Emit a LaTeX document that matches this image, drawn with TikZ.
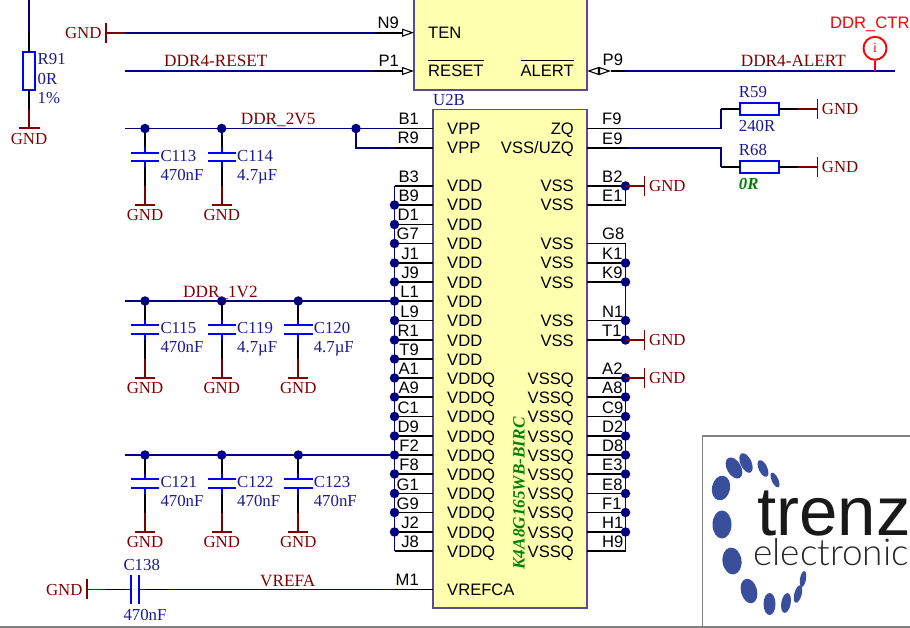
\documentclass[tikz,border=0pt]{standalone}
\usepackage{fontspec}
\setmainfont{Liberation Serif}
\newfontfamily\chipfont{Liberation Sans}
\newfontfamily\logofont{Lato Light}
\usetikzlibrary{arrows.meta}
\definecolor{wirenavy}{HTML}{000080}
\definecolor{partblue}{HTML}{0000FF}
\definecolor{textblue}{HTML}{1A1A8C}
\definecolor{gndred}{HTML}{800000}
\definecolor{chipyellow}{HTML}{FFFFB0}
\definecolor{chipedge}{HTML}{5B4A9A}
\definecolor{partgreen}{HTML}{008000}
\definecolor{logoblue}{HTML}{3A4F9C}
\tikzset{
    pinwire/.style={black,line width=1.9pt},
    netwire/.style={wirenavy,line width=1.9pt},
    gndwire/.style={gndred,line width=1.9pt},
    partwire/.style={partblue,line width=1.9pt},
    sigwire/.style={red,line width=1.9pt},
    junction/.style={circle,fill=wirenavy,inner sep=0pt,minimum size=9.5pt},
    chipbox/.style={draw=chipedge,fill=chipyellow,line width=1.1pt,inner sep=0pt,outer sep=0pt},
    resbox/.style={draw=partblue,fill=white,line width=2pt,inner sep=0pt,outer sep=0pt},
    serifbase/.style={inner sep=0pt,font=\fontsize{16.8}{18}\selectfont},
    gndtext/.style={serifbase,text=gndred},
    nettext/.style={inner sep=0pt,font=\fontsize{17.2}{18}\selectfont,text=gndred},
    parttext/.style={serifbase,text=textblue,anchor=base west},
    pintext/.style={inner sep=0pt,font=\chipfont\fontsize{16.6}{18}\selectfont},
    opentip/.tip={Triangle[open,fill=white,length=12pt,width=8pt,line width=1.1pt]},
}
\begin{document}
\begin{tikzpicture}[x=1pt,y=-1pt]
    \useasboundingbox (0,0) rectangle (910,628);
    \clip (0,0) rectangle (910,628);

    % the two parts of the chip
    \node[chipbox,minimum width=173pt,minimum height=110pt,anchor=south west] (u2a) at (414,90) {};
    \node[chipbox,minimum width=154pt,minimum height=498.5pt,anchor=north west] (u2b) at (433,109.5) {};
    \node[parttext,anchor=base west] (u2bname) at (433,106) {U2B};
    \node[serifbase,anchor=center,rotate=90,text=partgreen,font=\fontsize{17.2}{18}\selectfont\bfseries\itshape] (u2bvalue) at (519,493.5) {K4A8G165WB-BIRC};

    % supply pins on the left, rail at l-pins
    \foreach \pin/\y/\txt in {B3/186/VDD,B9/205/VDD,D1/224.5/VDD,G7/243.5/VDD,J1/263/VDD,J9/282/VDD,L1/301/VDD,L9/320.5/VDD,R1/340/VDD,T9/359/VDD,
                              A1/378/VDDQ,A9/397/VDDQ,C1/416.5/VDDQ,D9/436/VDDQ,F2/455/VDDQ,F8/474/VDDQ,G1/493.5/VDDQ,G9/512.5/VDDQ,J2/532/VDDQ,J8/551/VDDQ} {
        \coordinate (l\pin) at (394.5,\y);
        \draw[pinwire] (l\pin) -- (l\pin -| u2b.west);
        \node[pintext,anchor=base east] (lab\pin) at (419,\y-3.5) {\pin};
        \node[pintext,anchor=base west] (txt\pin) at (447,\y+6) {\txt};
    }
    \draw[netwire] (lB3) -- (lJ8);
    \foreach \pin in {B9,D1,G7,J1,J9,L1,L9,R1,T9,A1,A9,C1,D9,F2,F8,G1,G9,J2} {
        \node[junction] (dot\pin) at (l\pin) {};
    }

    % ground pins on the right
    \foreach \pin/\y/\txt in {B2/186/VSS,E1/205/VSS,G8/243.5/VSS,K1/263/VSS,K9/282/VSS,N1/320.5/VSS,T1/340/VSS,
                              A2/378/VSSQ,A8/397/VSSQ,C9/416.5/VSSQ,D2/436/VSSQ,D8/455/VSSQ,E3/474/VSSQ,E8/493.5/VSSQ,F1/512.5/VSSQ,H1/532/VSSQ,H9/551/VSSQ} {
        \coordinate (r\pin) at (625.5,\y);
        \draw[pinwire] (r\pin -| u2b.east) -- (r\pin);
        \node[pintext,anchor=base west] (lab\pin) at (602,\y-3.5) {\pin};
        \node[pintext,anchor=base east] (txt\pin) at (574,\y+6) {\txt};
    }
    \draw[netwire] (rB2) -- (rE1);
    \draw[netwire] (rG8) -- (rT1);
    \draw[netwire] (rA2) -- (rH9);
    \foreach \pin in {B2,K1,K9,N1,T1,A2,A8,C9,D2,D8,E3,E8,F1,H1} {
        \node[junction] (dot\pin) at (r\pin) {};
    }

    % ground flags beside the right rail
    \foreach \pin/\y in {B2/186,T1/340,A2/378} {
        \coordinate (bar\pin) at (644.5,\y);
        \draw[gndwire] (r\pin) -- (bar\pin);
        \draw[gndwire] (644.5,\y-10) -- (644.5,\y+10);
        \node[gndtext,anchor=base west] (gnd\pin) at (649,\y+5.7) {GND};
    }

    % upper part
    \coordinate (barten) at (106,32.7);
    \coordinate (tenred) at (126,32.7);
    \coordinate (tenblk) at (375,32.7);
    \coordinate (rstfree) at (125,71);
    \coordinate (rstblk) at (375,71);
    \draw[gndwire] (barten) -- (tenred);
    \draw[netwire] (tenred) -- (tenblk);
    \draw[pinwire,-opentip] (tenblk) -- (tenblk -| u2a.west);
    \draw[gndwire] (106,22.7) -- (106,42.7);
    \node[gndtext,anchor=base east] (gndten) at (101.7,39) {GND};
    \draw[netwire] (rstfree) -- (rstblk);
    \draw[pinwire,-opentip] (rstblk) -- (rstblk -| u2a.west);
    \node[nettext,anchor=base west] (netreset) at (164,66.7) {DDR4-RESET};
    \node[pintext,anchor=base east] (labN9) at (399,29) {N9};
    \node[pintext,anchor=base east] (labP1) at (399,66.7) {P1};
    \node[pintext,anchor=base west] (txtTEN) at (428,39) {TEN};
    \node[pintext,anchor=base west] (txtRESET) at (428,77) {$\overline{\mbox{RESET\rule{0pt}{15pt}}}$};
    \node[pintext,anchor=base east] (txtALERT) at (574,77) {$\overline{\mbox{ALERT\rule{0pt}{15pt}}}$};

    % alert line with its test point
    \coordinate (alertblk) at (626,71);
    \coordinate (alertend) at (895,71);
    \coordinate (alerttip) at (611,71);
    \coordinate (tapalert) at (875,71);
    \draw[netwire] (alertblk) -- (alertend);
    \draw[pinwire] (alerttip) -- (alertblk);
    \draw[pinwire,opentip-opentip] (alerttip -| u2a.east) -- (alerttip);
    \node[pintext,anchor=base west] (labP9) at (602.5,66) {P9};
    \node[nettext,anchor=base west] (netalert) at (740.7,66.7) {DDR4-ALERT};
    \node[circle,draw=red,line width=1.9pt,inner sep=0pt,minimum size=23pt,text=red,font=\fontsize{14}{14}\selectfont] (testpoint) at (875,48.3) {i};
    \draw[sigwire] (testpoint) -- (tapalert);
    \node[pintext,anchor=base west,text=red] (netctr) at (830,29) {DDR\_CTR};

    % R91
    \coordinate (r91top) at (29.3,0);
    \coordinate (r91mid) at (29.3,32);
    \node[resbox,minimum width=12pt,minimum height=38.6pt] (r91) at (29.3,71) {};
    \coordinate (r91low) at (29.3,109);
    \coordinate (r91bar) at (29.3,128.3);
    \draw[netwire] (r91top) -- (r91mid);
    \draw[pinwire] (r91mid) -- (r91);
    \draw[pinwire] (r91) -- (r91low);
    \draw[gndwire] (r91low) -- (r91bar);
    \draw[gndwire] (19,128.3) -- (40,128.3);
    \node[gndtext,anchor=base] (gndr91) at (29,144.3) {GND};
    \node[parttext] (r91name) at (37.5,65) {R91};
    \node[parttext] (r91value) at (37.5,85) {0R};
    \node[parttext] (r91tol) at (37.5,104) {1\%};

    % VPP pins
    \foreach \pin/\y in {B1/128.5,R9/148} {
        \coordinate (l\pin) at (394.5,\y);
        \draw[pinwire] (l\pin) -- (l\pin -| u2b.west);
        \node[pintext,anchor=base east] (lab\pin) at (419,\y-4.3) {\pin};
        \node[pintext,anchor=base west] (txt\pin) at (447,\y+6) {VPP};
    }
    \coordinate (rail2v5) at (125,128.5);
    \coordinate (rail1v2) at (125,301);
    \coordinate (railvq) at (125,455);
    \coordinate (tap2v5) at (356,128.5);
    \coordinate (tapR9) at (356,148);
    \draw[netwire] (rail2v5) -- (lB1);
    \draw[netwire] (tap2v5) -- (tapR9) -- (lR9);
    \node[junction] (dot2v5) at (tap2v5) {};
    \draw[netwire] (rail1v2) -- (lL1);
    \draw[netwire] (railvq) -- (lF2);
    \node[nettext,anchor=base west] (net2v5) at (240.7,125) {DDR\_2V5};
    \node[nettext,anchor=base west] (net1v2) at (183,297.5) {DDR\_1V2};

    % ZQ pins and their resistors
    \foreach \pin/\y/\txt/\res/\ry in {F9/128.5/ZQ/R59/109.3,E9/148/VSS\slash UZQ/R68/167} {
        \coordinate (r\pin) at (625.5,\y);
        \coordinate (c\pin) at (721,\y);
        \coordinate (e\res) at (721,\ry);
        \coordinate (o\res) at (798,\ry);
        \coordinate (b\res) at (817.5,\ry);
        \draw[pinwire] (r\pin -| u2b.east) -- (r\pin);
        \draw[netwire] (r\pin) -- (c\pin) -- (e\res);
        \node[resbox,minimum width=39.3pt,minimum height=11.6pt] (\res) at (759.7,\ry) {};
        \draw[pinwire] (e\res) -- (\res);
        \draw[pinwire] (\res) -- (o\res);
        \draw[gndwire] (o\res) -- (b\res);
        \draw[gndwire] (817.5,\ry-10) -- (817.5,\ry+10);
        \node[gndtext,anchor=base west] (gnd\res) at (821.7,\ry+5.7) {GND};
        \node[parttext] (name\res) at (738.7,\ry-11.7) {\res};
        \node[pintext,anchor=base west] (lab\pin) at (602,\y-3.8) {\pin};
        \node[pintext,anchor=base east] (txt\pin) at (574,\y+6) {\txt};
    }
    \node[parttext] (valR59) at (738.7,132) {240R};
    \node[parttext,text=partgreen,font=\fontsize{16.8}{18}\selectfont\bfseries\itshape] (valR68) at (738.7,190) {0R};

    % decoupling capacitors
    \foreach \cap/\x/\y/\val in {C113/145/128.5/470nF,C114/221.7/128.5/4.7µF,
                                 C115/145/301/470nF,C119/221.7/301/4.7µF,C120/298.3/301/4.7µF,
                                 C121/145/455/470nF,C122/221.7/455/470nF,C123/298.3/455/470nF} {
        \coordinate (\cap top) at (\x,\y);
        \coordinate (\cap a) at (\x,\y+19);
        \coordinate (\cap b) at (\x,\y+24.3);
        \coordinate (\cap c) at (\x,\y+32.6);
        \coordinate (\cap d) at (\x,\y+39);
        \coordinate (\cap e) at (\x,\y+57.5);
        \coordinate (\cap bar) at (\x,\y+76.7);
        \draw[pinwire] (\cap top) -- (\cap a);
        \draw[partwire] (\cap a) -- (\cap b);
        \draw[partwire] (\x-14.2,\y+24.3) -- (\x+14.2,\y+24.3);
        \draw[partwire] (\x-14.2,\y+32.6) -- (\x+14.2,\y+32.6);
        \draw[partwire] (\cap c) -- (\cap d);
        \draw[pinwire] (\cap d) -- (\cap e);
        \draw[gndwire] (\cap e) -- (\cap bar);
        \draw[gndwire] (\x-10,\y+76.7) -- (\x+10,\y+76.7);
        \node[junction] (dot\cap) at (\cap top) {};
        \node[gndtext,anchor=base] (gnd\cap) at (\x,\y+92) {GND};
        \node[parttext] (name\cap) at (\x+15.3,\y+32.7) {\cap};
        \node[parttext] (val\cap) at (\x+15.3,\y+51.7) {\val};
    }

    % VREFCA
    \coordinate (barvref) at (87,589.5);
    \coordinate (vrefa) at (106,589.5);
    \coordinate (vrefb) at (126,589.5);
    \coordinate (vrefc) at (131,589.5);
    \coordinate (vrefd) at (138.7,589.5);
    \coordinate (vrefe) at (145,589.5);
    \coordinate (vreff) at (165,589.5);
    \coordinate (lM1) at (394.5,589.5);
    \draw[gndwire] (barvref) -- (vrefa);
    \draw[pinwire] (vrefa) -- (vrefb);
    \draw[partwire] (vrefb) -- (vrefc);
    \draw[partwire] (vrefd) -- (vrefe);
    \draw[pinwire] (vrefe) -- (vreff);
    \draw[netwire] (vreff) -- (lM1);
    \draw[pinwire] (lM1) -- (lM1 -| u2b.west);
    \draw[gndwire] (87,579.3) -- (87,599.3);
    \draw[partwire] (131,575) -- (131,603.5);
    \draw[partwire] (138.7,575) -- (138.7,603.5);
    \node[gndtext,anchor=base east] (gndvref) at (82.7,595) {GND};
    \node[parttext] (nameC138) at (123.3,570) {C138};
    \node[parttext] (valC138) at (123.3,620) {470nF};
    \node[nettext,anchor=base west] (netvref) at (260,586) {VREFA};
    \node[pintext,anchor=base east] (labM1) at (419,585.5) {M1};
    \node[pintext,anchor=base west] (txtM1) at (447,595.5) {VREFCA};

    % logo and sheet frame
    \draw[gray,line width=1.6pt] (0,626.8) -- (910,626.8);
    \draw[gray,line width=1.6pt] (702.3,626.8) -- (702.3,436) -- (910,436);
    \foreach \x/\y/\a/\b/\r in {721/488/9/12.5/-12,722/524.5/9.5/14/0,732/561/9.5/13.5/8,749/591/8/12.5/15,
                                769.5/604/6/11/0,786/603/4.7/10/-10,798/594/3.7/9/-15,803/579/3/8/-10,
                                734/468/7/11.5/30,746/463/5.5/10.5/25,763/468.5/4.3/9/25,775/480/3.3/8/25} {
        \fill[logoblue] (\x,\y) ellipse[x radius=\a pt,y radius=\b pt,rotate=\r];
    }
    \node[inner sep=0pt,anchor=base west,text=black!90,font=\chipfont\fontsize{69}{70}\selectfont] (logotrenz) at (757,535) {trenz};
    \node[inner sep=0pt,anchor=base west,text=black!85,font=\logofont\fontsize{37}{38}\selectfont] (logoelec) at (753,565) {electronic};
\end{tikzpicture}
\end{document}
